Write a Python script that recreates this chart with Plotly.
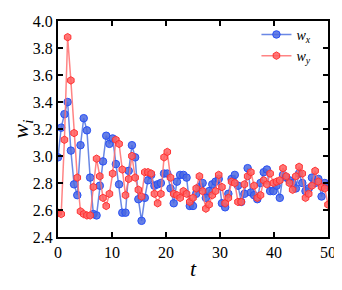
import numpy as np
import plotly.graph_objects as go

t = np.linspace(0, 50, 85)

w_x = [2.99, 3.21, 3.31, 3.40, 3.04, 2.79, 2.71, 3.08, 3.28, 3.19,
       2.84, 2.57, 2.56, 2.78, 2.96, 3.15, 3.09, 3.13, 2.94, 2.79,
       2.58, 2.58, 2.89, 3.08, 2.99, 2.68, 2.52, 2.69, 2.82, 2.86,
       2.78, 2.79, 2.80, 2.87, 2.87, 2.76, 2.65, 2.81, 2.86, 2.86,
       2.84, 2.63, 2.63, 2.72, 2.77, 2.80, 2.69, 2.74, 2.79, 2.81,
       2.83, 2.65, 2.62, 2.72, 2.83, 2.86, 2.78, 2.66, 2.72, 2.91,
       2.73, 2.71, 2.68, 2.80, 2.88, 2.90, 2.74, 2.74, 2.78, 2.69,
       2.86, 2.84, 2.82, 2.80, 2.76, 2.87, 2.80, 2.74, 2.76, 2.84,
       2.80, 2.83, 2.70, 2.80, 2.78]

w_y = [2.58, 2.57, 3.12, 3.88, 3.56, 3.17, 2.84, 2.59, 2.57, 2.56,
       2.56, 2.77, 2.98, 2.85, 2.69, 2.63, 2.72, 2.87, 3.12, 3.09,
       2.90, 2.71, 2.83, 3.00, 2.84, 2.75, 2.70, 2.88, 2.88, 2.87,
       2.72, 2.65, 2.72, 2.99, 3.03, 2.84, 2.72, 2.71, 2.69, 2.74,
       2.72, 2.66, 2.69, 2.76, 2.85, 2.74, 2.61, 2.64, 2.71, 2.74,
       2.86, 2.77, 2.65, 2.69, 2.81, 2.80, 2.66, 2.66, 2.79, 2.85,
       2.88, 2.78, 2.69, 2.71, 2.82, 2.79, 2.87, 2.80, 2.81, 2.82,
       2.91, 2.85, 2.80, 2.75, 2.85, 2.92, 2.87, 2.69, 2.72, 2.78,
       2.89, 2.81, 2.77, 2.76, 2.64]

x_ticks = [0, 10, 20, 30, 40, 50]
y_ticks = [2.4, 2.6, 2.8, 3.0, 3.2, 3.4, 3.6, 3.8, 4.0]
y_tick_text = ["2.4", "2.6", "2.8", "3.0", "3.2", "3.4", "3.6", "3.8", "4.0"]

serif = "Liberation Serif, Times New Roman, serif"

fig = go.Figure()
fig.add_trace(go.Scatter(
    x=t, y=w_x, mode="lines+markers", name="<i>w<sub>x</sub></i>",
    line=dict(color="rgba(80,115,225,0.85)", width=1.5),
    marker=dict(symbol="circle", size=7.5, color="rgba(75,105,225,0.85)",
                line=dict(color="rgb(40,80,245)", width=1)),
    cliponaxis=True,
))
fig.add_trace(go.Scatter(
    x=t, y=w_y, mode="lines+markers", name="<i>w<sub>y</sub></i>",
    line=dict(color="rgba(255,110,110,0.85)", width=1.5),
    marker=dict(symbol="hexagon", size=7.5, color="rgba(255,95,95,0.85)",
                line=dict(color="rgb(255,50,50)", width=1)),
    cliponaxis=True,
))

axis_common = dict(
    showline=True, linewidth=2, linecolor="black", mirror="ticks",
    ticks="inside", ticklen=5, tickwidth=1.5, tickcolor="black",
    showgrid=False, zeroline=False, ticklabeloverflow="allow",
    tickfont=dict(family=serif, size=16, color="black"),
)

fig.update_xaxes(range=[0, 50], tickvals=x_ticks,
                 title=dict(text="<i>t</i>", font=dict(family=serif, size=22, color="black"), standoff=0),
                 **axis_common)
fig.update_yaxes(range=[2.4, 4.0], tickvals=y_ticks, ticktext=y_tick_text,
                 title=dict(text="<i>w<sub>i</sub></i>", font=dict(family=serif, size=22, color="black"), standoff=4),
                 **axis_common)

# page body adds an 8px offset; size the figure so the plot area lands where the reference has it
fig.update_layout(
    width=334, height=282,
    margin=dict(l=50, r=14, t=5, b=53),
    paper_bgcolor="white", plot_bgcolor="white",
    showlegend=True,
    legend=dict(x=0.735, y=1.01, xanchor="left", yanchor="top",
                bgcolor="rgba(0,0,0,0)", borderwidth=0,
                font=dict(family=serif, size=14, color="black"),
                itemwidth=30, tracegroupgap=0),
)

fig.write_html("out.html")
